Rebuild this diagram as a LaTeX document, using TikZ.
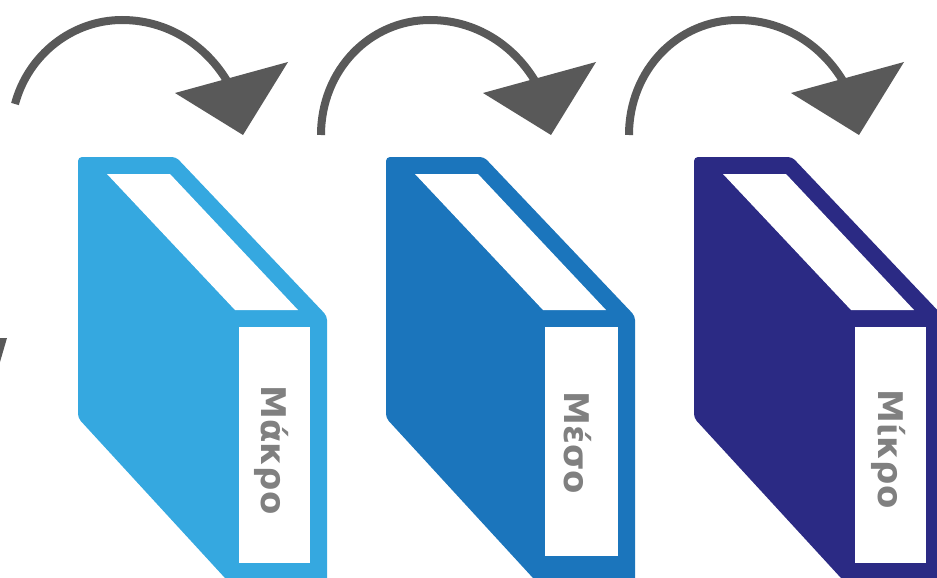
\documentclass[tikz,border=0pt]{standalone}
\usepackage{fontspec}
\setmainfont{DejaVu Sans}
\definecolor{bookA}{HTML}{35A8E0}
\definecolor{bookB}{HTML}{1B75BC}
\definecolor{bookC}{HTML}{2B2A84}
\definecolor{arrowgray}{HTML}{595959}
\definecolor{labelgray}{HTML}{808080}
\tikzset{
  booklabel/.style={rotate=-90,text=labelgray,font=\bfseries\fontsize{34}{34}\selectfont,inner sep=0pt},
  bookbody/.style={line join=round,rounded corners=4pt},
  bendline/.style={draw=arrowgray,line width=8pt},
  arrowhead/.style={fill=arrowgray}
}
\begin{document}
\begin{tikzpicture}[x=1pt,y=-1pt]
\useasboundingbox (0,0) rectangle (937,578);
\begin{scope}
\clip (0,0) rectangle (937,578);
% left edge remnant
\fill[arrowgray] (0,338) -- (7,338) -- (0,362) -- cycle;
% first arrow, cut at its start
\draw[bendline] (15,104) .. controls (28,55) and (72,20) .. (122,20) .. controls (172,20) and (212,50) .. (232,90);
\fill[arrowhead] (175,93) -- (288,62) -- (243,135) -- cycle;
% second arrow
\draw[bendline] (321,135) .. controls (321,70) and (370,20) .. (430,20) .. controls (480,20) and (520,50) .. (540,90);
\fill[arrowhead] (483,93) -- (596,62) -- (551,135) -- cycle;
% third arrow
\draw[bendline] (629,135) .. controls (629,70) and (678,20) .. (738,20) .. controls (788,20) and (828,50) .. (848,90);
\fill[arrowhead] (791,93) -- (904,62) -- (859,135) -- cycle;
% book 1
\fill[bookA,bookbody] (78,157) -- (176,157) -- (327,316) -- (327,590) -- (236,590) -- (78,418) -- cycle;
\fill[white] (107,174) -- (170,174) -- (298,310) -- (235,310) -- cycle;
\fill[white] (239,327) rectangle (310,563);
% book 2
\fill[bookB,bookbody] (386,157) -- (484,157) -- (635,316) -- (635,590) -- (544,590) -- (386,418) -- cycle;
\fill[white] (415,174) -- (478,174) -- (606,310) -- (543,310) -- cycle;
\fill[white] (545,327) rectangle (618,556);
% book 3
\fill[bookC,bookbody] (694,157) -- (792,157) -- (943,316) -- (943,590) -- (852,590) -- (694,418) -- cycle;
\fill[white] (723,174) -- (786,174) -- (914,310) -- (851,310) -- cycle;
\fill[white] (855,327) rectangle (926,563);
\end{scope}
\node[booklabel] (makro) at (272,450) {Μάκρο};
\node[booklabel] (meso) at (578,443) {Μέσο};
\node[booklabel] (mikro) at (889,449) {Μίκρο};
\end{tikzpicture}
\end{document}
